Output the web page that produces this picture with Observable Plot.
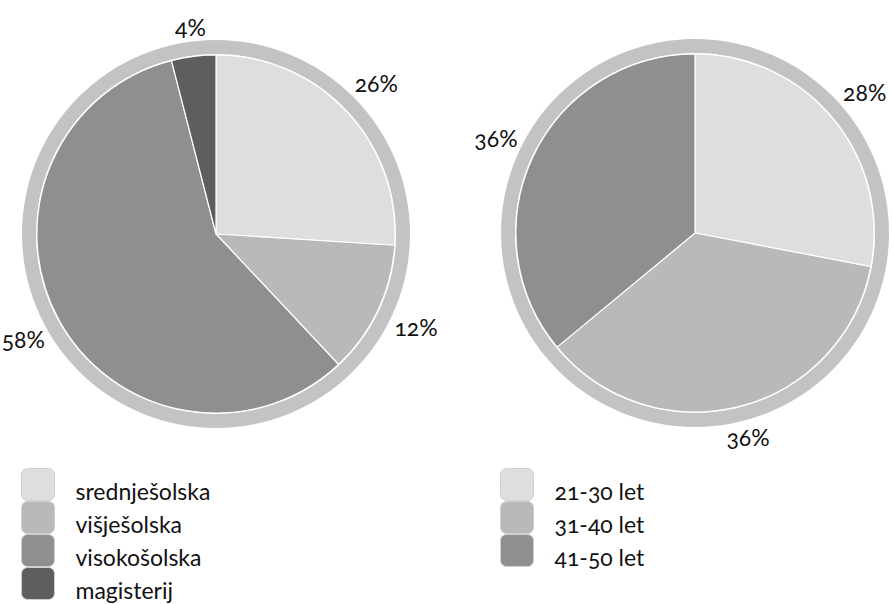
<!DOCTYPE html>
<html><head><meta charset="utf-8">
<script src="https://cdn.jsdelivr.net/npm/d3@7"></script>
<script src="https://cdn.jsdelivr.net/npm/@observablehq/plot@0.6"></script>
<style>
body{margin:0;background:#fff;}
#chart{position:relative;width:893px;height:604px;overflow:hidden;}
#chart svg{position:absolute;left:0;top:0;}
#chart svg text{font-variant-numeric:oldstyle-nums;font-feature-settings:"onum" 1;}
</style></head><body><div id="chart"></div>
<script>
// ---- data ----
const eduLabels = ["srednješolska", "višješolska", "visokošolska", "magisterij"];
const eduValues = [26, 12, 58, 4];
const ageLabels = ["21-30 let", "31-40 let", "41-50 let"];
const ageValues = [28, 36, 36];
const greys = ["#dedede", "#b9b9b9", "#8f8f8f", "#5e5e5e"];
const ringColor = "#c3c3c3";

const FONT = "Lato, sans-serif";
const FS = 23;
const FW = 400;
const W = 893, H = 604;
const innerRatio = 0.923;       // pie radius relative to outer ring radius
const labelGap = 1.01;          // distance of label box from centre (ring units)
const charHalfW = 0.0385;       // half label width per character (ring units)
const halfH = 0.052;            // half label height (ring units)

function pieData(labels, values) {
  const arcs = d3.pie().sort(null).value(d => d.value)(labels.map((l, i) => ({label: l, value: values[i]})));
  return arcs.map(a => {
    const mid = (a.startAngle + a.endAngle) / 2;
    const text = a.data.value + "%";
    const s = Math.sin(mid), c = Math.cos(mid);
    const r = labelGap + Math.abs(s) * text.length * charHalfW + Math.abs(c) * halfH;
    return {label: a.data.label, value: a.data.value, text, startAngle: a.startAngle, endAngle: a.endAngle,
            lx: s * r, ly: c * r};
  });
}

function pieMark(arcs, color) {
  return (index, scales) => {
    const cx = scales.x(0), cy = scales.y(0);
    const R = Math.abs(scales.x(1) - scales.x(0));
    const g = d3.create("svg:g");
    g.append("circle").attr("cx", cx).attr("cy", cy).attr("r", R).attr("fill", ringColor);
    g.append("circle").attr("cx", cx).attr("cy", cy).attr("r", R * innerRatio + 1).attr("fill", "#fff");
    const arc = d3.arc().innerRadius(0).outerRadius(R * innerRatio);
    g.append("g").attr("transform", `translate(${cx},${cy})`)
      .selectAll("path").data(arcs).join("path")
      .attr("d", arc)
      .attr("fill", d => color.apply(d.label))
      .attr("stroke", "#fff").attr("stroke-width", 1.2).attr("stroke-linejoin", "round");
    return g.node();
  };
}

function piePlot(labels, values, xRange, yRange) {
  const arcs = pieData(labels, values);
  const color = Plot.scale({color: {type: "ordinal", domain: labels, range: greys}});
  return Plot.plot({
    width: W, height: H, margin: 0,
    style: {background: "transparent", overflow: "visible"},
    x: {domain: [-1, 1], range: xRange, axis: null},
    y: {domain: [-1, 1], range: yRange, axis: null},
    marks: [
      pieMark(arcs, color),
      Plot.text(arcs, {x: "lx", y: "ly", text: "text", fontSize: FS, fontWeight: FW,
        fontFamily: FONT, fill: "#111", textAnchor: "middle", lineAnchor: "middle"})
    ]
  });
}

function legendPlot(labels, xRange, yTop) {
  const n = labels.length, step = 33;
  return Plot.plot({
    width: W, height: H, margin: 0,
    style: {background: "transparent", overflow: "visible"},
    x: {domain: ["swatch"], range: xRange, padding: 0, axis: null},
    y: {domain: labels, range: [yTop, yTop + n * step], padding: 0, axis: null},
    color: {type: "ordinal", domain: labels, range: greys},
    marks: [
      Plot.cell(labels, {x: () => "swatch", y: d => d, fill: d => d, rx: 6, stroke: "#d0d0d0", strokeWidth: 1, inset: 0.5}),
      Plot.text(labels, {x: () => "swatch", y: d => d, text: d => d, textAnchor: "start",
        dx: (xRange[1] - xRange[0]) / 2 + 20, dy: 8, fontSize: FS, fontWeight: FW, fontFamily: FONT, fill: "#111"})
    ]
  });
}

const chart = document.getElementById("chart");
chart.append(piePlot(eduLabels, eduValues, [22, 410], [428, 40]));
chart.append(piePlot(ageLabels, ageValues, [501, 889], [427, 39]));
chart.append(legendPlot(eduLabels, [21, 55], 468));
chart.append(legendPlot(ageLabels, [500, 534], 468));
</script>
</body></html>
